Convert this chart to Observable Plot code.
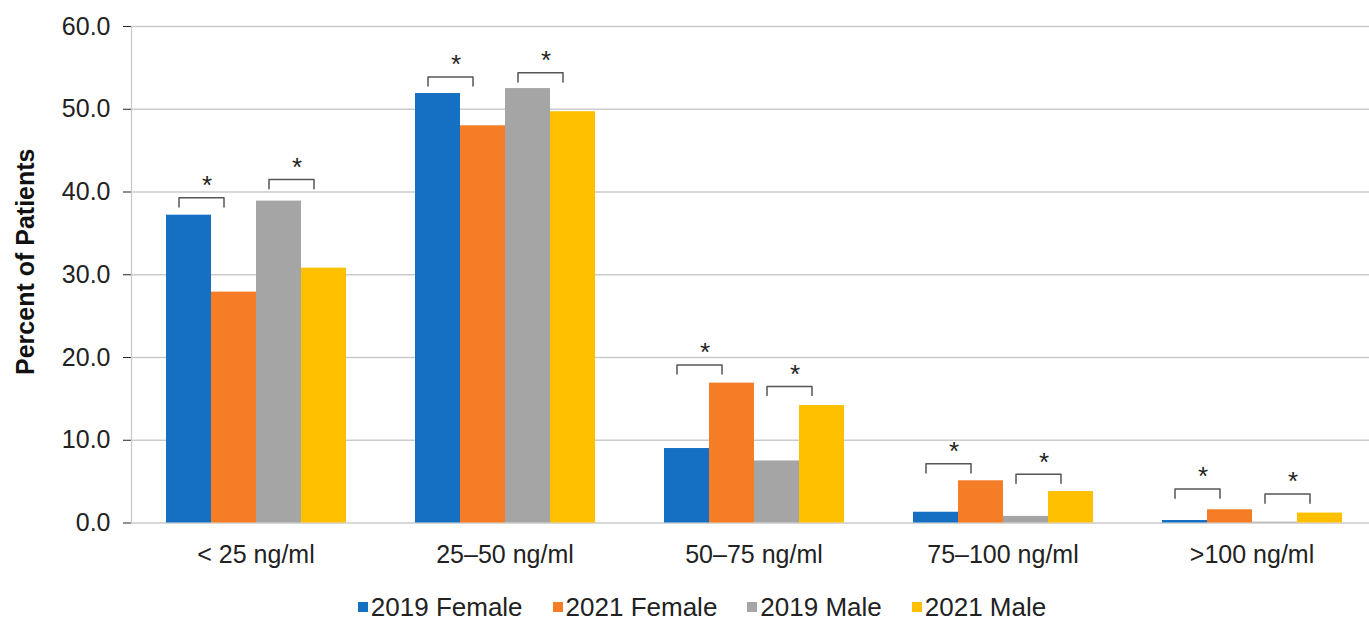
<!DOCTYPE html>
<html>
<head>
<meta charset="utf-8">
<script src="https://cdn.jsdelivr.net/npm/d3@7"></script>
<script src="https://cdn.jsdelivr.net/npm/@observablehq/plot@0.6"></script>
<style>
  html, body { margin: 0; padding: 0; background: #fff; }
  body { width: 1369px; height: 619px; overflow: hidden; font-family: "Liberation Sans", Arial, sans-serif; }
  #legend { display: flex; justify-content: center; align-items: center; margin-top: 19px; padding-left: 35px; height: 26px; font-size: 26px; color: #222; }
  #legend .item { display: flex; align-items: center; margin: 0 15px; }
  #legend .sw { width: 10px; height: 10px; margin-right: 3px; }
</style>
</head>
<body>
<div id="chart"></div>
<div id="legend"></div>
<script>
const categories = ["< 25 ng/ml", "25–50 ng/ml", "50–75 ng/ml", "75–100 ng/ml", ">100 ng/ml"];
const series = ["2019 Female", "2021 Female", "2019 Male", "2021 Male"];
const colors = ["#1570C4", "#F57D26", "#A5A5A5", "#FFC000"];
const female2019 = [37.2, 51.9, 9.0, 1.3, 0.3];
const female2021 = [27.9, 48.0, 16.9, 5.1, 1.6];
const male2019 = [38.9, 52.5, 7.5, 0.8, 0.1];
const male2021 = [30.8, 49.7, 14.2, 3.8, 1.2];
const femaleBracket = [39.3, 53.9, 19.1, 7.15, 4.1];
const maleBracket = [41.5, 54.4, 16.5, 5.9, 3.5];
const yTicks = [0, 10, 20, 30, 40, 50, 60];
const yLabel = "Percent of Patients";

const valuesBySeries = [female2019, female2021, male2019, male2021];
const rows = [];
categories.forEach((cat, i) => {
  series.forEach((s, j) => rows.push({cat, series: s, value: valuesBySeries[j][i]}));
});

const tickLen = 1.1; // bracket end-tick length, in data units
const brackets = [];
categories.forEach((cat, i) => {
  brackets.push({cat, a: series[0], b: series[1], y: femaleBracket[i], id: "F" + i});
  brackets.push({cat, a: series[2], b: series[3], y: maleBracket[i], id: "M" + i});
});
const bracketPts = [];
brackets.forEach(br => {
  bracketPts.push({cat: br.cat, id: br.id, x: br.a, y: br.y - tickLen});
  bracketPts.push({cat: br.cat, id: br.id, x: br.a, y: br.y});
  bracketPts.push({cat: br.cat, id: br.id, x: br.b, y: br.y});
  bracketPts.push({cat: br.cat, id: br.id, x: br.b, y: br.y - tickLen});
});

const gridColor = "#cbcbcb";
const font = "'Liberation Sans', Arial, sans-serif";

const chart = Plot.plot({
  width: 1369,
  height: 575,
  marginLeft: 130,
  marginRight: 0,
  marginTop: 26,
  marginBottom: 52.5,
  style: {fontFamily: font, fontSize: "25px", color: "#222", background: "#fff"},
  fx: {domain: categories, range: [129, 1378], padding: 0, label: null, axis: "bottom", tickSize: 0, tickPadding: 22},
  x: {domain: series, paddingInner: 0, paddingOuter: 0.76, axis: null},
  y: {domain: [0, 60], ticks: yTicks, tickFormat: d => d.toFixed(1), tickSize: 8, tickPadding: 13, label: null},
  color: {domain: series, range: colors},
  marks: [
    Plot.ruleY(yTicks, {stroke: gridColor, strokeWidth: 1.3}),
    Plot.frame({anchor: "left", facet: "super", stroke: gridColor, strokeWidth: 1.3}),
    Plot.barY(rows, {fx: "cat", x: "series", y: "value", fill: "series"}),
    Plot.line(bracketPts, {fx: "cat", x: "x", y: "y", z: "id", dx: -10, stroke: "#555", strokeWidth: 1.5}),
    Plot.text(brackets, {fx: "cat", x: "a", y: "y", text: () => "*", dx: 18, dy: -12, fontSize: 26, fill: "#222"}),
    Plot.text([yLabel], {frameAnchor: "left", facet: "super", rotate: -90, textAnchor: "middle", lineAnchor: "middle",
      dx: -106, dy: -13, fontSize: 25, fontWeight: "bold", fill: "#111"})
  ]
});
document.getElementById("chart").appendChild(chart);

const legend = document.getElementById("legend");
series.forEach((s, j) => {
  const item = document.createElement("div");
  item.className = "item";
  const sw = document.createElement("span");
  sw.className = "sw";
  sw.style.background = colors[j];
  const label = document.createElement("span");
  label.textContent = s;
  item.appendChild(sw);
  item.appendChild(label);
  legend.appendChild(item);
});
</script>
</body>
</html>
